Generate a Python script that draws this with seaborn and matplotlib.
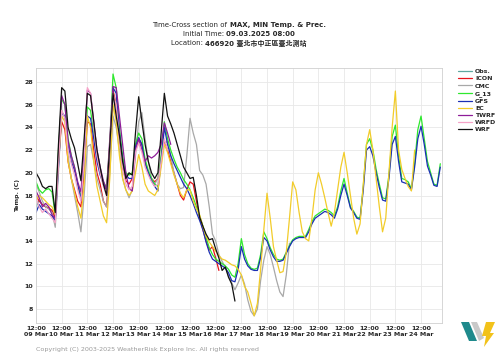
import numpy as np
import pandas as pd
import seaborn as sns
from matplotlib import pyplot as plt
from matplotlib.patches import Polygon

# 3-hourly values starting 09 Mar 12:00 (one row per day: 12,15,18,21,00,03,06,09)
start = "2025-03-09 12:00"
models = ["Obs.", "ICON", "CMC", "G_13", "GFS", "EC", "TWRF", "WRFD", "WRF"]
colors = ["#5fa8a0", "#e8141c", "#a8a8a8", "#2ee82e", "#1a2fb4",
          "#f2cc2a", "#8e1c98", "#f6a3c8", "#111111"]

obs = [17.0, 17.6, 17.2, 17.0, 16.9, 16.6, 16.2]

icon = [18.0, 17.5, 17.2, 17.0, 16.9, 16.7, 16.0, 21.0,
        24.5, 23.8, 21.0, 19.5, 18.5, 17.5, 17.0, 20.0,
        24.5, 24.3, 22.0, 20.0, 19.0, 17.5, 17.0, 21.0,
        27.3, 26.0, 23.0, 20.5, 19.3, 19.0, 19.5, 22.0,
        23.0, 22.5, 21.0, 20.0, 19.5, 19.2, 19.5, 21.0,
        22.8, 22.0, 21.0, 20.0, 19.0, 18.0, 17.6, 18.5,
        19.2, 19.0, 17.5, 16.0, 15.0, 14.0, 13.2, 13.5,
        12.5, 11.4]

cmc = [19.0, 18.3, 17.5, 17.0, 16.8, 16.5, 15.2, 20.0,
       25.5, 24.8, 21.5, 19.5, 18.0, 16.5, 14.8, 18.0,
       22.3, 22.5, 21.0, 19.5, 18.5, 17.5, 17.0, 20.0,
       25.0, 24.0, 22.0, 19.5, 18.5, 17.8, 18.5, 21.5,
       24.5, 25.3, 23.0, 21.0, 19.5, 19.0, 19.5, 21.5,
       22.5, 22.8, 21.5, 20.0, 19.0, 18.6, 18.7, 21.5,
       24.8, 23.5, 22.5, 20.2, 19.8, 19.0, 17.0, 14.6,
       14.0, 12.8, 12.2, 11.7, 10.9, 10.3, 9.7, 10.3,
       11.0, 10.2, 8.8, 7.8, 7.4, 8.0, 10.5, 12.3,
       13.5, 12.8, 11.7, 10.5, 9.5, 9.1, 11.0, 13.8]

g13 = [19.2, 18.5, 18.2, 18.5, 18.6, 18.3, 16.3, 22.0,
       26.5, 26.0, 23.0, 21.5, 20.5, 19.0, 17.8, 21.0,
       25.8, 25.5, 23.5, 21.5, 20.2, 19.2, 18.7, 22.5,
       28.7, 27.5, 24.0, 21.5, 20.0, 19.8, 20.0, 22.5,
       23.5, 23.0, 21.2, 20.2, 19.5, 19.0, 18.8, 21.5,
       24.5, 23.0, 22.0, 21.2, 20.5, 20.0, 19.4, 19.0,
       18.5, 17.8, 17.0, 16.2, 15.3, 14.3, 13.4, 12.8,
       12.4, 12.2, 12.0, 11.8, 11.5, 11.0, 10.8, 12.0,
       14.2, 12.8, 12.0, 11.6, 11.5, 11.6, 12.8, 14.8,
       14.2, 13.4, 12.8, 12.4, 12.3, 12.4, 13.0, 13.6,
       14.1, 14.3, 14.4, 14.4, 14.4, 15.0, 15.7, 16.2,
       16.4, 16.6, 16.8, 16.7, 16.5, 16.2, 17.0, 18.4,
       19.5, 18.2, 17.0, 16.6, 16.1, 16.0, 18.8, 22.5,
       23.0, 22.0, 20.3, 19.0, 17.8, 17.7, 19.8, 23.2,
       24.2, 21.5, 19.5, 19.4, 19.2, 18.6, 20.8, 23.8,
       25.0, 23.0, 21.0, 20.0, 19.0, 18.9, 20.8]

gfs = [16.5, 17.2, 16.8, 16.6, 16.4, 16.2, 15.8, 20.5,
       25.3, 25.0, 22.5, 21.0, 20.2, 19.0, 17.6, 21.0,
       25.0, 24.8, 23.0, 21.0, 19.8, 19.0, 18.5, 22.0,
       27.5, 27.0, 23.5, 21.0, 19.8, 19.5, 19.5, 22.3,
       23.1, 22.5, 20.8, 20.0, 19.3, 18.8, 18.4, 21.0,
       24.0, 22.5, 21.5, 20.8, 20.2, 19.6, 19.0, 18.6,
       18.0, 17.3, 16.5, 15.8, 15.0, 13.9, 13.0, 12.4,
       12.2, 12.0, 11.8, 11.6, 11.2, 10.5, 10.4, 11.5,
       13.5, 12.4, 11.8, 11.5, 11.4, 11.4, 12.5, 14.3,
       14.0, 13.2, 12.6, 12.2, 12.2, 12.3, 12.9, 13.5,
       14.0, 14.2, 14.3, 14.3, 14.3, 14.8, 15.5, 16.0,
       16.2, 16.4, 16.6, 16.5, 16.3, 16.0, 16.8, 18.0,
       19.0, 18.0, 16.9, 16.5, 16.0, 15.9, 18.5, 22.0,
       22.3, 21.5, 20.0, 18.7, 17.6, 17.5, 19.5, 22.5,
       23.2, 21.0, 19.2, 19.1, 19.0, 18.5, 20.5, 23.0,
       24.1, 22.5, 20.6, 19.8, 18.9, 18.8, 20.5]

ec = [17.6, 18.0, 17.8, 17.5, 17.2, 17.0, 16.3, 21.0,
      25.0, 24.5, 21.0, 19.5, 18.3, 17.0, 16.0, 19.0,
      25.0, 24.0, 21.0, 18.8, 17.5, 16.2, 15.6, 19.5,
      26.0, 24.5, 21.5, 19.5, 18.5, 18.0, 18.4, 20.0,
      21.6, 20.5, 19.0, 18.4, 18.2, 18.0, 18.5, 20.5,
      22.5, 21.8, 20.8, 19.8, 19.0, 18.2, 17.8, 18.5,
      18.5, 17.5, 16.8, 16.3, 15.3, 14.4, 13.9, 13.5,
      13.1, 12.7, 12.4, 12.3, 12.1, 11.9, 11.8, 11.5,
      11.0, 10.0, 9.5, 8.5, 7.4, 8.5, 11.5, 15.0,
      18.2, 16.0, 13.5, 12.3, 11.2, 11.3, 13.0, 16.0,
      19.2, 18.5, 16.5, 14.8, 14.2, 14.0, 16.0, 18.5,
      20.0, 19.0, 17.8, 16.5, 15.3, 16.5, 18.5, 20.5,
      21.8, 20.0, 18.0, 16.0, 14.6, 15.5, 19.0, 22.5,
      23.8, 22.0, 19.5, 17.0, 14.8, 16.0, 20.0, 24.0,
      27.2, 22.0, 20.3, 19.5, 18.8, 18.4, 22.0]

twrf = [18.4, 17.8, 17.0, 17.3, 17.0, 16.3, 16.0, 21.5,
        26.8, 26.0, 22.8, 21.5, 20.5, 19.2, 18.3, 22.0,
        27.3, 27.0, 24.5, 22.0, 20.5, 19.3, 18.5, 23.0,
        27.6, 27.5, 25.0, 22.5, 20.0, 18.6, 18.4, 22.0,
        23.0, 22.0, 21.0, 21.5, 21.3, 21.5, 21.8, 22.5,
        24.4, 23.5, 22.5]

wrfd = [17.8, 17.0, 16.5, 16.8, 16.4, 16.0, 15.6, 21.0,
        25.5, 24.8, 22.0, 20.8, 19.8, 18.5, 17.5, 21.0,
        27.5, 27.0, 24.0, 21.5, 20.0, 18.8, 18.0, 22.5,
        27.0, 26.0, 23.0, 20.5, 19.0, 18.5, 18.8, 21.8,
        22.6, 21.8, 20.5, 19.8, 19.2, 18.8, 19.0, 21.0,
        23.0, 22.0]

wrf = [20.0, 19.5, 18.8, 18.6, 18.8, 18.8, 16.5, 22.5,
       27.5, 27.2, 24.0, 23.0, 22.2, 20.8, 19.3, 23.0,
       27.0, 26.8, 24.5, 22.0, 20.5, 19.0, 18.0, 22.5,
       27.0, 25.0, 23.3, 21.0, 19.5, 20.0, 19.8, 23.5,
       26.7, 24.5, 22.5, 21.0, 20.0, 19.5, 20.0, 23.5,
       27.0, 25.0, 24.3, 23.5, 22.5, 21.5, 20.5, 20.0,
       19.5, 19.6, 18.0, 16.1, 15.3, 14.6, 14.1, 14.2,
       13.3, 12.5, 11.4, 11.7, 10.8, 10.2, 8.7]

series = [obs, icon, cmc, g13, gfs, ec, twrf, wrfd, wrf]
frames = []
for name, vals in zip(models, series):
    frames.append(pd.DataFrame({
        "time": pd.date_range(start, periods=len(vals), freq="3h"),
        "temp": vals,
        "model": name,
    }))
df = pd.concat(frames, ignore_index=True)

sns.set_style("whitegrid")
plt.rcParams["font.family"] = ["DejaVu Sans", "Noto Sans CJK TC"]

W, H = 500, 354
fig = plt.figure(figsize=(W / 100, H / 100), dpi=100)
ax = fig.add_axes([36 / W, 1 - 323 / H, 406 / W, 255 / H])

sns.lineplot(data=df, x="time", y="temp", hue="model", hue_order=models,
             palette=colors, linewidth=0.9, estimator=None, ax=ax)

ticks = pd.date_range(start, "2025-03-24 12:00", freq="D")
ax.set_xticks(ticks)
ax.set_xticklabels([t.strftime("%H:%M\n%d %b") for t in ticks],
                   fontsize=4.5, fontweight="bold", linespacing=1.4)
ax.set_xlim(pd.Timestamp(start), pd.Timestamp(start) + pd.Timedelta(hours=379.6))
ax.set_ylim(6.77, 29.23)
ax.set_yticks(range(8, 29, 2))
for lab in ax.get_yticklabels():
    lab.set_fontsize(4.5)
    lab.set_fontweight("bold")
ax.tick_params(axis="both", length=0, pad=2)
ax.set_xlabel("")
ax.set_ylabel("Temp. (C)", fontsize=4.5, fontweight="bold", labelpad=3)
ax.grid(color="#e8e8e8", linewidth=0.6)
for sp in ax.spines.values():
    sp.set_color("#d0d0d0")
    sp.set_linewidth(0.6)

handles, labels = ax.get_legend_handles_labels()
ax.legend(handles, labels, loc="upper left", bbox_to_anchor=(458 / W, 1 - 69 / H),
          bbox_transform=fig.transFigure, frameon=False, borderpad=0, borderaxespad=0,
          prop=dict(size=4.5, weight="bold"), handlelength=2.2, handletextpad=0.5,
          labelspacing=0.28)

# title: normal + bold parts centred over the axes
renderer = fig.canvas.get_renderer()


def title_line(y, normal, bold, cx=239):
    t1 = fig.text(0, 0, normal, fontsize=5, va="center")
    t2 = fig.text(0, 0, bold, fontsize=5, fontweight="bold", va="center")
    w1 = t1.get_window_extent(renderer).width
    w2 = t2.get_window_extent(renderer).width
    x0 = cx - (w1 + w2) / 2
    t1.set_position((x0 / W, 1 - y / H))
    t2.set_position(((x0 + w1) / W, 1 - y / H))


title_line(25, "Time-Cross section of ", "MAX, MIN Temp. & Prec.")
title_line(34, "Initial Time: ", "09.03.2025 08:00")
title_line(43, "Location: ", "466920 臺北市中正區臺北測站")

fig.text(36 / W, 1 - 349 / H, "Copyright (C) 2003-2025 WeatherRisk Explore Inc. All rights reserved",
         fontsize=4.6, color="#9a9a9a", va="center")

# logo
def fpoly(pts, color):
    fig.patches.append(Polygon([(x / W, 1 - y / H) for x, y in pts], closed=True,
                               transform=fig.transFigure, facecolor=color, edgecolor="none"))


fpoly([(461, 322), (469, 322), (477, 341), (469, 341)], "#1f8a8c")
fpoly([(471, 322), (477, 322), (484, 338), (479, 341)], "#c9c9c9")
fpoly([(486, 322), (495, 322), (490, 333), (494, 333), (484, 347), (486, 336), (482, 336)], "#f2c21a")

fig.savefig("out.png", dpi=100)
